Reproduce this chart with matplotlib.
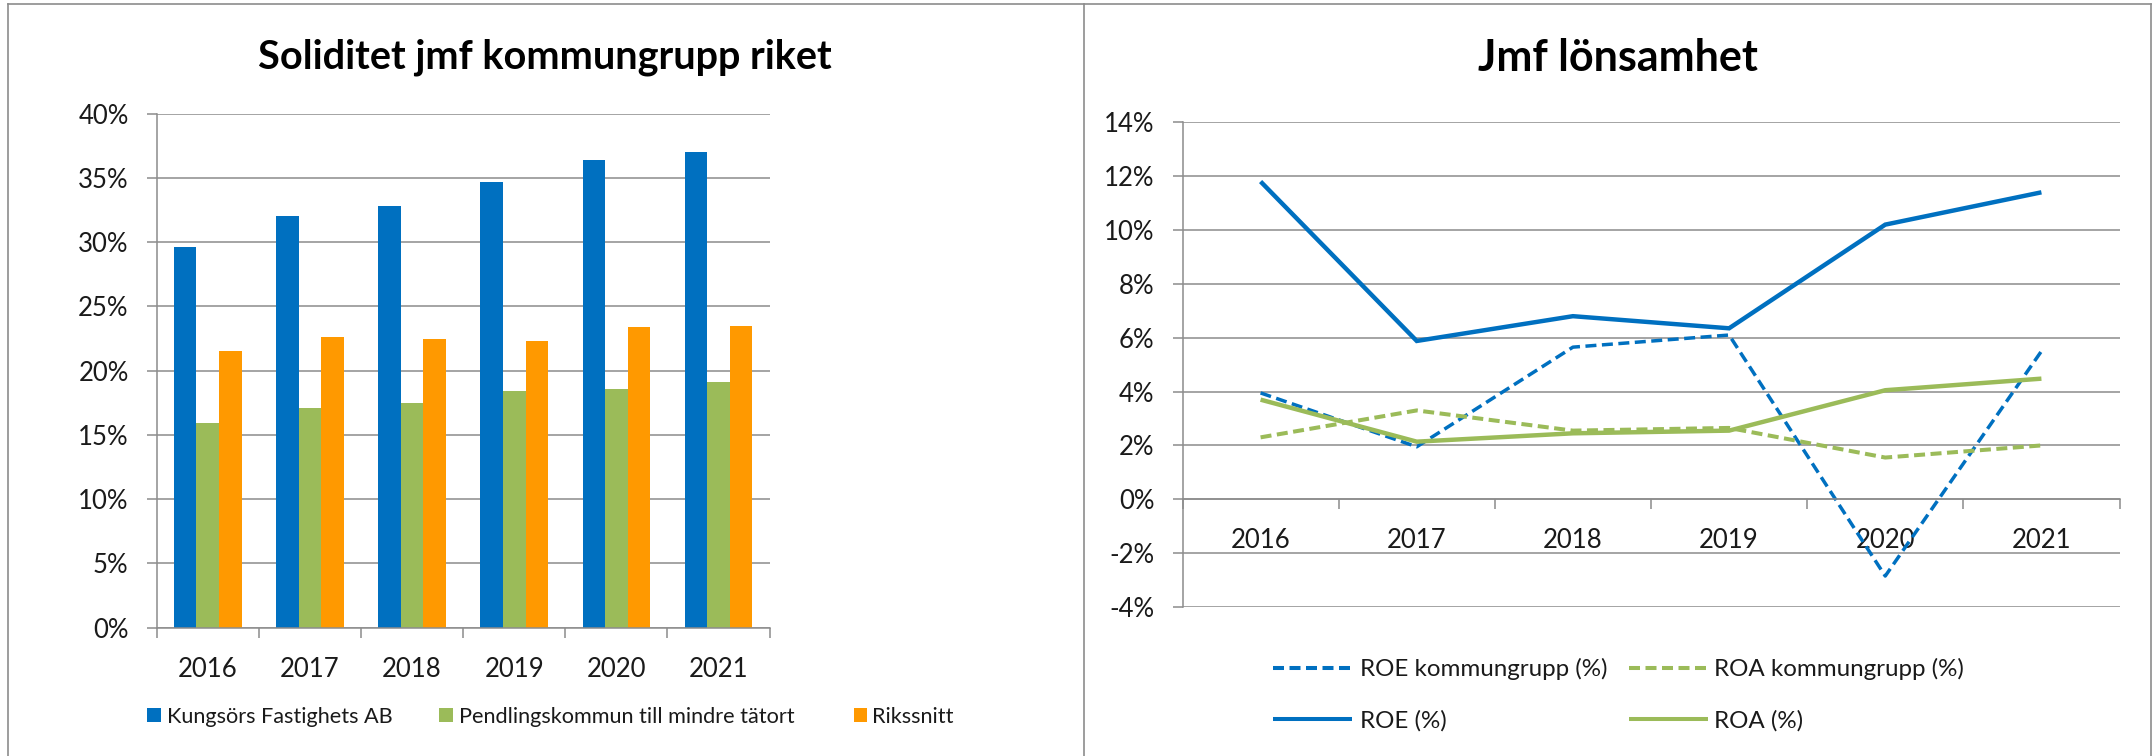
import matplotlib
matplotlib.use('Agg')
import matplotlib.pyplot as plt
from matplotlib.lines import Line2D
from matplotlib.patches import Rectangle
import numpy as np

# ---------------- data ----------------
years = ['2016', '2017', '2018', '2019', '2020', '2021']

kungsors = [29.6, 32.0, 32.8, 34.7, 36.4, 37.0]
pendling = [15.9, 17.1, 17.5, 18.4, 18.6, 19.1]
rikssnitt = [21.5, 22.6, 22.5, 22.3, 23.4, 23.5]
bar_labels = ['Kungsörs Fastighets AB', 'Pendlingskommun till mindre tätort', 'Rikssnitt']

roe_grupp = [3.95, 1.95, 5.65, 6.1, -2.85, 5.5]
roa_grupp = [2.3, 3.3, 2.55, 2.65, 1.55, 2.0]
roe = [11.8, 5.88, 6.8, 6.35, 10.2, 11.4]
roa = [3.7, 2.14, 2.45, 2.55, 4.05, 4.48]
line_labels = ['ROE kommungrupp (%)', 'ROA kommungrupp (%)', 'ROE (%)', 'ROA (%)']

left_title = 'Soliditet jmf kommungrupp riket'
right_title = 'Jmf lönsamhet'

bar_ticks = list(range(0, 41, 5))
line_ticks = list(range(-4, 15, 2))

# ---------------- style ----------------
plt.rcParams['font.family'] = ['Lato', 'DejaVu Sans']
BLUE = '#0070C0'
GREEN = '#9BBB59'
ORANGE = '#FF9900'
GRID = '#8c8c8c'
TXT = '#1a1a1a'

W, H = 2152, 756
fig = plt.figure(figsize=(W / 100, H / 100), dpi=100)
fig.patch.set_facecolor('white')


def fx(px):
    return px / W


def fy(py):
    return 1 - py / H


def dashes(lw_pt, on_px=11.0, off_px=5.5):
    s = lw_pt * 100 / 72
    return (0, (on_px / s, off_px / s))


def style_axes(ax):
    for s in ['top', 'right']:
        ax.spines[s].set_visible(False)
    ax.spines['left'].set_color(GRID)
    ax.spines['left'].set_linewidth(1.1)
    ax.spines['bottom'].set_color(GRID)
    ax.spines['bottom'].set_linewidth(1.1)
    ax.yaxis.grid(True, color=GRID, linewidth=1.1)
    ax.xaxis.grid(False)
    ax.set_axisbelow(True)
    ax.tick_params(axis='y', length=7.2, width=1.1, color=GRID, pad=13,
                   labelsize=18.5, labelcolor=TXT, direction='out')
    ax.tick_params(axis='x', which='major', length=0, labelsize=18.5, labelcolor=TXT)
    ax.tick_params(axis='x', which='minor', length=7.2, width=1.1, color=GRID, direction='out')


# ---------------- left: bar chart ----------------
ax1 = fig.add_axes([fx(156.7), fy(627.6), (769.6 - 156.7) / W, (627.6 - 113.7) / H])
x = np.arange(len(years))
bw = 0.221
for off, vals, col in zip([-bw, 0, bw], [kungsors, pendling, rikssnitt], [BLUE, GREEN, ORANGE]):
    ax1.bar(x + off, vals, width=bw, color=col, linewidth=0)
ax1.set_xlim(-0.5, len(years) - 0.5)
ax1.set_ylim(0, 40)
ax1.set_yticks(bar_ticks, labels=[f'{t}%' for t in bar_ticks])
ax1.set_xticks(x, labels=years)
ax1.set_xticks(np.arange(len(years) + 1) - 0.5, minor=True)
style_axes(ax1)
ax1.tick_params(axis='x', which='major', pad=21)

fig.text(fx(544.5), fy(68), left_title, ha='center', va='baseline',
         fontsize=28.5, fontweight='bold', color='black')

# left legend
sq = 13.7
for sx, tx, lab, col in zip([147, 439, 853.7], [166.7, 458.8, 872.4], bar_labels, [BLUE, GREEN, ORANGE]):
    fig.add_artist(Rectangle((fx(sx), fy(715 + sq / 2)), sq / W, sq / H,
                             transform=fig.transFigure, facecolor=col, edgecolor='none'))
    fig.text(fx(tx), fy(723.3), lab, ha='left', va='baseline', fontsize=15.6, color=TXT)

# ---------------- right: line chart ----------------
ax2 = fig.add_axes([fx(1182.5), fy(607), (2119.5 - 1182.5) / W, (607 - 122.3) / H])
styles = [
    dict(color=BLUE, lw=2.5, linestyle=dashes(2.5)),
    dict(color=GREEN, lw=2.9, linestyle=dashes(2.9)),
    dict(color=BLUE, lw=3.2, linestyle='-'),
    dict(color=GREEN, lw=3.2, linestyle='-'),
]
for vals, st in zip([roe_grupp, roa_grupp, roe, roa], styles):
    ax2.plot(x, vals, solid_capstyle='butt', dash_capstyle='butt',
             solid_joinstyle='miter', **st)
ax2.set_xlim(-0.5, len(years) - 0.5)
ax2.set_ylim(-4, 14)
ax2.set_yticks(line_ticks, labels=[f'{t}%' for t in line_ticks])
ax2.set_xticks(x, labels=years)
ax2.set_xticks(np.arange(len(years) + 1) - 0.5, minor=True)
style_axes(ax2)
ax2.spines['bottom'].set_position(('data', 0))
ax2.tick_params(axis='x', which='major', pad=20.5)

fig.text(fx(1617.8), fy(71), right_title, ha='center', va='baseline',
         fontsize=31, fontweight='bold', color='black')

# right legend
leg_pos = [(1272.7, 1360, 668.3, 676), (1629.4, 1714.5, 668.3, 676),
           (1272.7, 1360, 719, 727.3), (1629.4, 1714.5, 719, 727.3)]
for (lx, tx, ly, tb), lab, st in zip(leg_pos, line_labels, styles):
    st2 = dict(st)
    st2['lw'] = 2.9
    if st['linestyle'] != '-':
        st2['linestyle'] = dashes(2.9)
    fig.add_artist(Line2D([fx(lx), fx(lx + 79)], [fy(ly), fy(ly)], transform=fig.transFigure,
                          dash_capstyle='butt', solid_capstyle='butt', **st2))
    fig.text(fx(tx), fy(tb), lab, ha='left', va='baseline', fontsize=17.4, color=TXT)

# ---------------- panel borders ----------------
BORDER = '#8c8c8c'
for xs, ys in [([8.3, 2151], [3.5, 3.5]), ([8.3, 8.3], [3.5, 756]),
               ([1084, 1084], [3.5, 756]), ([2150.7, 2150.7], [3.5, 756])]:
    fig.add_artist(Line2D([fx(v) for v in xs], [fy(v) for v in ys], transform=fig.transFigure,
                          color=BORDER, lw=1.2))

fig.savefig('out.png', dpi=100)
